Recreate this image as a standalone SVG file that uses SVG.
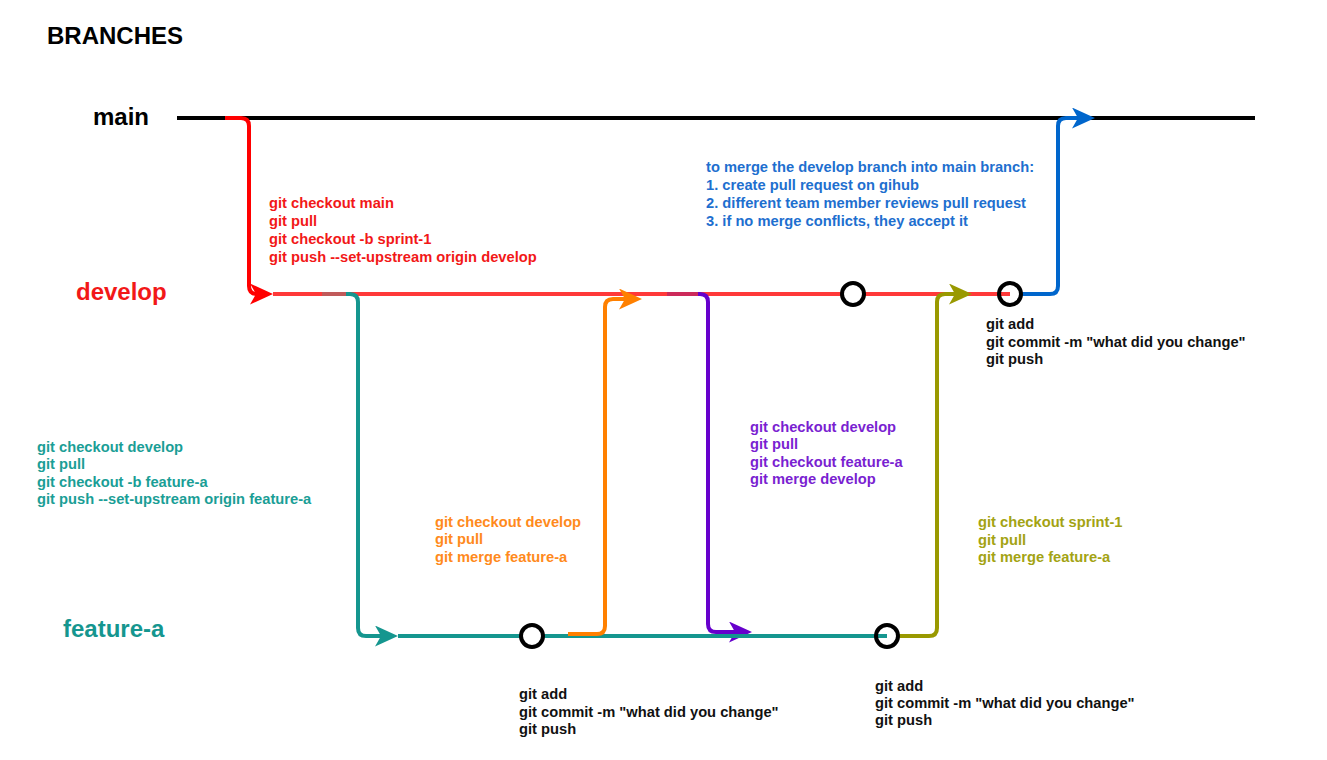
<svg xmlns="http://www.w3.org/2000/svg" width="1327" height="760" viewBox="0 0 1327 760">
<style>
  .lbl { font-family: "Liberation Sans", Arial, sans-serif; font-weight: bold; font-size: 24px; }
  .t { font-family: "Liberation Sans", Arial, sans-serif; font-weight: bold; font-size: 14.7px; }
  .ln { fill: none; stroke-width: 4; stroke-linejoin: round; }
  .commit { stroke: #000; stroke-width: 4; }
</style>
<defs>
  <marker id="aRed" markerUnits="userSpaceOnUse" viewBox="0 0 23 21" markerWidth="23" markerHeight="21" refX="11" refY="10.5" orient="auto"><path d="M0,0 L23,10.5 L0,21 L6,10.5 z" fill="#ff0000"/></marker>
  <marker id="aTeal" markerUnits="userSpaceOnUse" viewBox="0 0 23 21" markerWidth="23" markerHeight="21" refX="11" refY="10.5" orient="auto"><path d="M0,0 L23,10.5 L0,21 L6,10.5 z" fill="#15968f"/></marker>
  <marker id="aOrange" markerUnits="userSpaceOnUse" viewBox="0 0 23 21" markerWidth="23" markerHeight="21" refX="11" refY="10.5" orient="auto"><path d="M0,0 L23,10.5 L0,21 L6,10.5 z" fill="#ff8000"/></marker>
  <marker id="aPurple" markerUnits="userSpaceOnUse" viewBox="0 0 23 21" markerWidth="23" markerHeight="21" refX="11" refY="10.5" orient="auto"><path d="M0,0 L23,10.5 L0,21 L6,10.5 z" fill="#6600cc"/></marker>
  <marker id="aOlive" markerUnits="userSpaceOnUse" viewBox="0 0 23 21" markerWidth="23" markerHeight="21" refX="11" refY="10.5" orient="auto"><path d="M0,0 L23,10.5 L0,21 L6,10.5 z" fill="#999900"/></marker>
  <marker id="aBlue" markerUnits="userSpaceOnUse" viewBox="0 0 23 21" markerWidth="23" markerHeight="21" refX="11" refY="10.5" orient="auto"><path d="M0,0 L23,10.5 L0,21 L6,10.5 z" fill="#0066cc"/></marker>
</defs>
<rect width="1327" height="760" fill="#ffffff"/>

<text class="lbl" x="47" y="44" fill="#000">BRANCHES</text>

<g id="branch-main"><text class="lbl" x="93" y="125" fill="#000">main</text></g>
<g id="branch-develop"><text class="lbl" x="76" y="300" fill="#f21818">develop</text></g>
<g id="branch-feature-a"><text class="lbl" x="63" y="637" fill="#15968f">feature-a</text></g>

<g id="connectors">
  <path class="ln" d="M177,118 H1255" stroke="#000"/>
  <path class="ln" d="M273,294 H1010" stroke="#ff3939"/>
  <path class="ln" d="M322,294 H350 Q358,294 358,302 V628 Q358,636 366,636 H386" stroke="#15968f" marker-end="url(#aTeal)"/>
  <path class="ln" d="M322,294 H346" stroke="#c05a5a"/>
  <path class="ln" d="M667,294 H700 Q708,294 708,302 V624 Q708,632 716,632 H740" stroke="#6600cc" marker-end="url(#aPurple)"/>
  <path class="ln" d="M667,294 H698" stroke="#cc2a5a"/>
  <path class="ln" d="M225,118 H241 Q249,118 249,126 V286 Q249,294 257,294 H261" stroke="#ff0000" marker-end="url(#aRed)"/>
  <path class="ln" d="M398,636 H887" stroke="#15968f"/>
  <path class="ln" d="M568,634 H597 Q605,634 605,626 V307 Q605,299 613,299 H630" stroke="#ff8000" marker-end="url(#aOrange)"/>
  <path class="ln" d="M899,636 H929 Q937,636 937,628 V302 Q937,294 945,294 H960" stroke="#999900" marker-end="url(#aOlive)"/>
  <path class="ln" d="M1022,294 H1050 Q1058,294 1058,286 V126 Q1058,118 1066,118 H1083" stroke="#0066cc" marker-end="url(#aBlue)"/>
</g>

<g id="commit-1"><circle class="commit" cx="532" cy="636" r="11" fill="#fff"/></g>
<g id="commit-2"><circle class="commit" cx="887" cy="636" r="11" fill="none"/></g>
<g id="commit-3"><circle class="commit" cx="853" cy="294" r="11" fill="#fff"/></g>
<g id="commit-4"><circle class="commit" cx="1010" cy="294" r="11" fill="none"/></g>

<g id="note-create-develop" fill="#f21818">
  <text class="t" x="269" y="208">git checkout main</text>
  <text class="t" x="269" y="226">git pull</text>
  <text class="t" x="269" y="244">git checkout -b sprint-1</text>
  <text class="t" x="269" y="262">git push --set-upstream origin develop</text>
</g>
<g id="note-merge-main" fill="#1e6fcf">
  <text class="t" x="706" y="172">to merge the develop branch into main branch:</text>
  <text class="t" x="706" y="190">1. create pull request on gihub</text>
  <text class="t" x="706" y="208">2. different team member reviews pull request</text>
  <text class="t" x="706" y="226">3. if no merge conflicts, they accept it</text>
</g>
<g id="note-commit-develop" fill="#111">
  <text class="t" x="986" y="329">git add</text>
  <text class="t" x="986" y="347">git commit -m "what did you change"</text>
  <text class="t" x="986" y="364">git push</text>
</g>
<g id="note-create-feature" fill="#1a9e96">
  <text class="t" x="37" y="452">git checkout develop</text>
  <text class="t" x="37" y="469">git pull</text>
  <text class="t" x="37" y="487">git checkout -b feature-a</text>
  <text class="t" x="37" y="504">git push --set-upstream origin feature-a</text>
</g>
<g id="note-merge-develop" fill="#ff8a1c">
  <text class="t" x="435" y="527">git checkout develop</text>
  <text class="t" x="435" y="544">git pull</text>
  <text class="t" x="435" y="562">git merge feature-a</text>
</g>
<g id="note-update-feature" fill="#7a1fd1">
  <text class="t" x="750" y="432">git checkout develop</text>
  <text class="t" x="750" y="449">git pull</text>
  <text class="t" x="750" y="467">git checkout feature-a</text>
  <text class="t" x="750" y="484">git merge develop</text>
</g>
<g id="note-merge-sprint" fill="#a3a313">
  <text class="t" x="978" y="527">git checkout sprint-1</text>
  <text class="t" x="978" y="545">git pull</text>
  <text class="t" x="978" y="562">git merge feature-a</text>
</g>
<g id="note-commit-1" fill="#111">
  <text class="t" x="519" y="699">git add</text>
  <text class="t" x="519" y="717">git commit -m "what did you change"</text>
  <text class="t" x="519" y="734">git push</text>
</g>
<g id="note-commit-2" fill="#111">
  <text class="t" x="875" y="691">git add</text>
  <text class="t" x="875" y="708">git commit -m "what did you change"</text>
  <text class="t" x="875" y="725">git push</text>
</g>
</svg>
